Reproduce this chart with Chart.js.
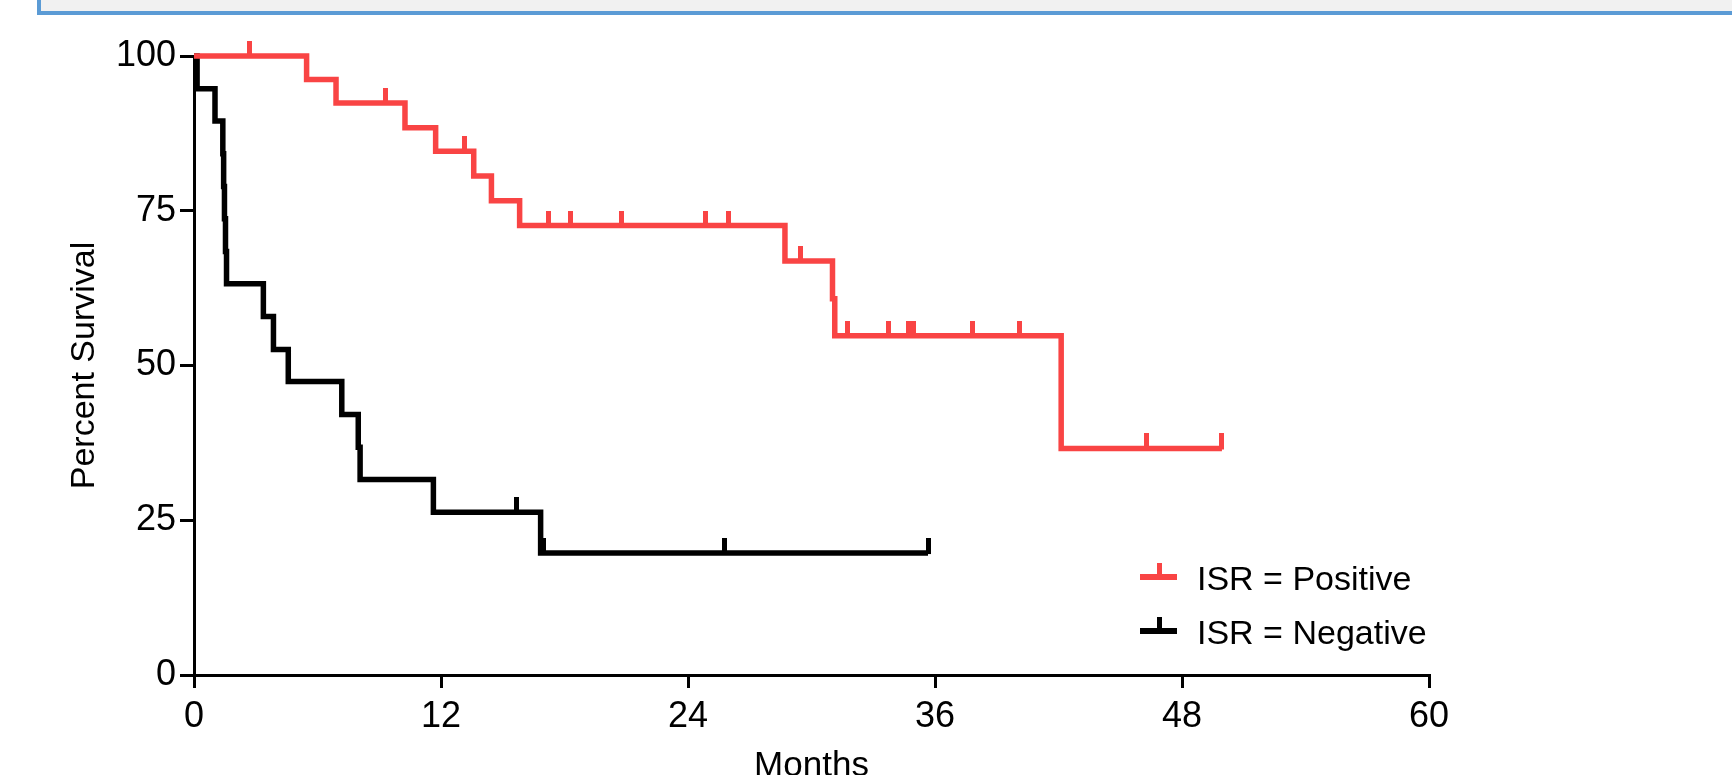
<!DOCTYPE html>
<html>
<head>
<meta charset="utf-8">
<title>Survival by ISR</title>
<script src="https://cdn.jsdelivr.net/npm/chart.js@4.4.1/dist/chart.umd.min.js"></script>
<style>
    html, body {margin: 0; padding: 0; background: #fff; overflow: hidden;}
    #wrap {position: relative; width: 1732px; height: 775px;}
    #c {position: absolute; left: 0; top: 0;}
    .banner {
        position: absolute; left: 37px; top: -10px; right: -10px; height: 17px;
        background: #f1f1f1; border: 4px solid #5b9bd5;
    }
</style>
</head>
<body>
<div id="wrap">
    <canvas id="c" width="1732" height="775"></canvas>
    <div class="banner"></div>
</div>
<script>
// ISR = Positive (steps: time of event, survival after it)
const posMonths = [0, 5.47, 6.9, 10.25, 11.74, 13.59, 14.45, 15.82, 28.71, 31.02, 31.13, 42.13, 49.94];
const posSurvival = [100, 96.2, 92.4, 88.4, 84.6, 80.6, 76.6, 72.6, 66.9, 60.8, 54.8, 36.6, 36.6];
const posCensorMonths = [2.69, 9.31, 13.15, 17.24, 18.29, 20.75, 24.86, 25.98, 29.47, 31.73, 33.74, 34.69, 34.97, 37.84, 40.09, 46.29, 49.94];
const posCensorSurvival = [100, 92.4, 84.6, 72.6, 72.6, 72.6, 72.6, 72.6, 66.9, 54.8, 54.8, 54.8, 54.8, 54.8, 54.8, 36.6, 36.6];

// ISR = Negative
const negMonths = [0, 0.15, 1.02, 1.4, 1.44, 1.48, 1.53, 1.58, 3.37, 3.86, 4.58, 7.18, 7.98, 8.07, 11.63, 16.84, 35.66];
const negSurvival = [100, 94.7, 89.5, 84.2, 78.9, 73.7, 68.4, 63.2, 57.9, 52.6, 47.4, 42.1, 36.8, 31.6, 26.3, 19.7, 19.7];
const negCensorMonths = [15.68, 17.0, 25.78, 35.66];
const negCensorSurvival = [26.3, 19.7, 19.7, 19.7];

const monthTicks = [0, 12, 24, 36, 48, 60];
const survivalTicks = [0, 25, 50, 75, 100];
const seriesLabels = ['ISR = Positive', 'ISR = Negative'];
const seriesColors = ['#f94444', '#000000'];

const FONT = '"Liberation Sans", Arial, sans-serif';

const toPoints = (xs, ys) => xs.map((x, i) => ({x: x, y: ys[i]}));

// small upward tick used for censored subjects
function censorMark(color) {
    const c = document.createElement('canvas');
    c.width = 5;
    c.height = 30;
    const g = c.getContext('2d');
    g.fillStyle = color;
    g.fillRect(0, 0, 5, 16);
    return c;
}

// legend sits inside the plot, lower right
const insideLegend = {
    id: 'insideLegend',
    afterDraw(chart) {
        const ctx = chart.ctx;
        const rows = [577, 631];
        ctx.save();
        seriesLabels.forEach((label, i) => {
            const y = rows[i];
            ctx.fillStyle = seriesColors[i];
            ctx.fillRect(1140, y - 3, 37, 6);
            ctx.fillRect(1157, y - 14, 5, 12);
            ctx.fillStyle = '#000';
            ctx.font = '34px ' + FONT;
            ctx.textBaseline = 'alphabetic';
            ctx.textAlign = 'left';
            ctx.fillText(label, 1197, y + 13);
        });
        ctx.restore();
    }
};

const curve = (data, color) => ({
    data: data,
    borderColor: color,
    borderWidth: 5.5,
    stepped: 'before',
    pointRadius: 0,
    fill: false,
    clip: false
});

const censors = (data, color) => ({
    data: data,
    showLine: false,
    pointStyle: censorMark(color),
    pointRadius: 3,
    clip: false
});

const ctx = document.getElementById('c').getContext('2d');
new Chart(ctx, {
    type: 'line',
    data: {
        datasets: [
            censors(toPoints(posCensorMonths, posCensorSurvival), seriesColors[0]),
            curve(toPoints(posMonths, posSurvival), seriesColors[0]),
            censors(toPoints(negCensorMonths, negCensorSurvival), seriesColors[1]),
            curve(toPoints(negMonths, negSurvival), seriesColors[1])
        ]
    },
    options: {
        responsive: false,
        devicePixelRatio: 1,
        animation: false,
        layout: {padding: {left: 0, top: 56, right: 303, bottom: 0}},
        plugins: {
            legend: {display: false},
            tooltip: {enabled: false}
        },
        scales: {
            x: {
                type: 'linear',
                min: 0,
                max: 60,
                afterBuildTicks: (scale) => {
                    scale.ticks = monthTicks.map(v => ({value: v}));
                },
                afterFit: (scale) => {
                    scale.height = 100;
                },
                border: {display: true, color: '#000', width: 3},
                grid: {drawOnChartArea: false, drawTicks: true, tickLength: 13, color: '#000', lineWidth: 3},
                ticks: {color: '#000', padding: 7, maxRotation: 0, font: {family: FONT, size: 36}},
                title: {
                    display: true,
                    text: 'Months',
                    color: '#000',
                    font: {family: FONT, size: 35, lineHeight: 1},
                    padding: {top: 0, bottom: -9}
                }
            },
            y: {
                type: 'linear',
                min: 0,
                max: 100,
                afterBuildTicks: (scale) => {
                    scale.ticks = survivalTicks.map(v => ({value: v}));
                },
                afterFit: (scale) => {
                    scale.width = 194;
                },
                border: {display: true, color: '#000', width: 3},
                grid: {drawOnChartArea: false, drawTicks: true, tickLength: 14, color: '#000', lineWidth: 3},
                ticks: {color: '#000', padding: 4, font: {family: FONT, size: 36}},
                title: {
                    display: true,
                    text: 'Percent Survival',
                    color: '#000',
                    font: {family: FONT, size: 34},
                    padding: {top: 64, bottom: 0}
                }
            }
        }
    },
    plugins: [insideLegend]
});
</script>
</body>
</html>
